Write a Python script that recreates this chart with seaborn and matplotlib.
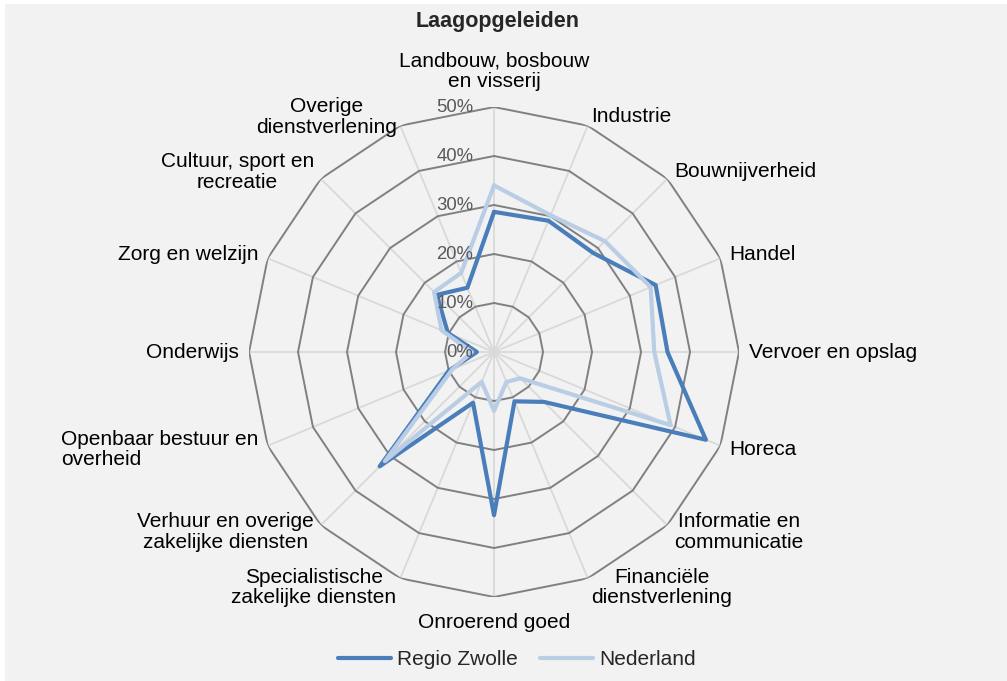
import numpy as np
import pandas as pd
import seaborn as sns
import matplotlib.pyplot as plt
from matplotlib.patches import Rectangle

categories = ['Landbouw, bosbouw\nen visserij', 'Industrie', 'Bouwnijverheid', 'Handel',
              'Vervoer en opslag', 'Horeca', 'Informatie en\ncommunicatie',
              'Financiële\ndienstverlening', 'Onroerend goed',
              'Specialistische\nzakelijke diensten', 'Verhuur en overige\nzakelijke diensten',
              'Openbaar bestuur en\noverheid', 'Onderwijs', 'Zorg en welzijn',
              'Cultuur, sport en\nrecreatie', 'Overige\ndienstverlening']
regio_zwolle = [28.6, 29.0, 28.6, 35.7, 35.4, 46.8, 14.4, 10.9, 33.3, 11.2, 33.0, 10.0, 3.5, 10.2, 16.5, 14.2]
nederland = [34.0, 30.2, 32.0, 34.6, 32.7, 39.0, 7.6, 6.6, 12.0, 6.6, 31.5, 9.2, 4.5, 11.6, 17.3, 17.5]
ticks = [0, 10, 20, 30, 40, 50]
tick_labels = ['0%', '10%', '20%', '30%', '40%', '50%']

sns.set_style('white')
plt.rcParams['font.family'] = ['Liberation Sans', 'DejaVu Sans']

n = len(categories)
angles = np.linspace(0, 2 * np.pi, n, endpoint=False)
closed = np.append(angles, 2 * np.pi)

# long table, first point repeated to close the polygon
rows = []
for name, vals in [('Regio Zwolle', regio_zwolle), ('Nederland', nederland)]:
    v = list(vals) + [vals[0]]
    for i, a in enumerate(closed):
        rows.append({'angle': a, 'value': v[i] / 100, 'serie': name})
df = pd.DataFrame(rows)

fig = plt.figure(figsize=(10.07, 6.81), dpi=100, facecolor='white')
fig.patches.append(Rectangle((5 / 1007, 0), 1, 677 / 681, transform=fig.transFigure,
                             facecolor='#f2f2f2', edgecolor='none', zorder=-10))
ax = fig.add_axes([0.2473, 0.1233, 0.4866, 0.7196], projection='polar')
ax.set_facecolor('none')
ax.set_theta_zero_location('N')
ax.set_theta_direction(-1)
ax.set_ylim(0, 0.5)
ax.grid(False)
ax.spines['polar'].set_visible(False)
ax.set_xticks([])
ax.set_yticks([])

# polygon grid
for a in angles:
    ax.plot([a, a], [0, 0.5], color='#d9d9d9', lw=1.3, zorder=1)
for t in ticks[1:]:
    ax.plot(closed, [t / 100] * len(closed), color='#808080', lw=1.4, zorder=2)

sns.lineplot(data=df, x='angle', y='value', hue='serie', sort=False, estimator=None,
             units='serie', palette={'Regio Zwolle': '#4a7ebb', 'Nederland': '#b9cde5'},
             hue_order=['Regio Zwolle', 'Nederland'], lw=3, ax=ax, zorder=3, legend=False)
ax.set_xlabel('')
ax.set_ylabel('')

for t, lab in zip(ticks, tick_labels):
    ax.annotate(lab, xy=(0, t / 100), xytext=(-15, 0), textcoords='offset points',
                ha='right', va='center', fontsize=13.3, color='#595959', zorder=4)

for a, lab in zip(angles, categories):
    s, c = np.sin(a), np.cos(a)
    ha = 'center' if abs(s) < 0.01 else ('left' if s > 0 else 'right')
    va = 'bottom' if c > 0.99 else ('top' if c < -0.99 else 'center')
    ma = 'left' if lab.startswith('Openbaar') else 'center'
    r = 0.532 if abs(c) > 0.99 else 0.52
    ax.text(a, r, lab, ha=ha, va=va, multialignment=ma, fontsize=15,
            linespacing=1.12, color='black')

fig.text(0.494, 0.969, 'Laagopgeleiden', ha='center', va='center', fontsize=15.5, fontweight='bold')

handles = [plt.Line2D([], [], color='#4a7ebb', lw=3), plt.Line2D([], [], color='#b9cde5', lw=3)]
fig.legend(handles, ['Regio Zwolle', 'Nederland'], loc='center', bbox_to_anchor=(0.513, 0.031),
           ncol=2, frameon=False, fontsize=15, handlelength=2.55, handletextpad=0.3,
           columnspacing=1.05)

fig.savefig('out.png', dpi=100, facecolor=fig.get_facecolor())
